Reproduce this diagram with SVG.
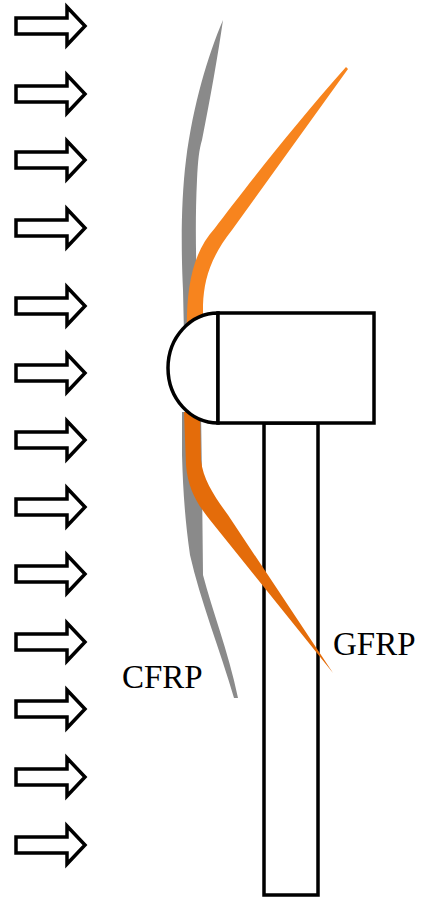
<svg xmlns="http://www.w3.org/2000/svg" width="422" height="899" viewBox="0 0 422 899">
  <style>
    .wind { fill: #fff; stroke: #000; stroke-width: 3.5; stroke-linejoin: miter; }
    .frame { fill: #fff; stroke: #000; stroke-width: 3.5; }
    .cfrp { fill: #8a8a8a; }
    .gfrp-up { fill: #f7841e; }
    .gfrp-low { fill: #e46c0a; }
    .label { font-family: "Liberation Serif", "Times New Roman", serif; font-size: 33px; fill: #000; }
  </style>
  <defs>
    <path id="wind-arrow" class="wind" d="M16,-8 H67 V-19 L85,0 L67,19 V8 H16 Z"/>
  </defs>

  <!-- incoming wind -->
  <g id="wind">
    <use href="#wind-arrow" transform="translate(0,26)"/>
    <use href="#wind-arrow" transform="translate(0,94)"/>
    <use href="#wind-arrow" transform="translate(0,160)"/>
    <use href="#wind-arrow" transform="translate(0,228)"/>
    <use href="#wind-arrow" transform="translate(0,306)"/>
    <use href="#wind-arrow" transform="translate(0,373)"/>
    <use href="#wind-arrow" transform="translate(0,440)"/>
    <use href="#wind-arrow" transform="translate(0,507)"/>
    <use href="#wind-arrow" transform="translate(0,574)"/>
    <use href="#wind-arrow" transform="translate(0,642)"/>
    <use href="#wind-arrow" transform="translate(0,709)"/>
    <use href="#wind-arrow" transform="translate(0,777)"/>
    <use href="#wind-arrow" transform="translate(0,845)"/>
  </g>

  <!-- tower -->
  <g id="tower">
    <rect class="frame" x="264" y="423" width="54" height="472"/>
  </g>

  <!-- CFRP blade (small deflection) -->
  <g id="blade-cfrp">
    <path class="cfrp" d="M223,20 C208,55 193,105 186,160 C181,200 181,250 183,290 L184,335 L196,335 L197,290 C196,260 195,220 197,180 C198,160 199,150 202,140 C210,100 218,55 223,20 Z"/>
    <path class="cfrp" d="M182,412 L182,455 C183,490 185,520 190,555 C200,600 220,650 234,698 L238,698 C228,650 212,610 203,575 L202,480 L201,412 Z"/>
  </g>

  <!-- GFRP blade (large deflection) -->
  <g id="blade-gfrp">
    <path class="gfrp-up" d="M187,335 C186,295 190,255 215,228 C240,195 290,130 346,67 L348,69 L232,230 C210,258 204,280 203,305 L203,335 Z"/>
    <path class="gfrp-low" d="M184,412 L186,465 C188,490 198,505 210,520 L333,673 L228,515 C215,497 203,480 201,460 L200,412 Z"/>
  </g>

  <!-- hub and nacelle -->
  <g id="hub">
    <path class="frame" d="M218,313 A50,55 0 0 0 218,423 Z"/>
  </g>
  <g id="nacelle">
    <rect class="frame" x="218" y="313" width="156" height="110"/>
  </g>

  <!-- labels -->
  <g id="labels">
    <text class="label" x="122" y="688">CFRP</text>
    <text class="label" x="333" y="655">GFRP</text>
  </g>
</svg>
